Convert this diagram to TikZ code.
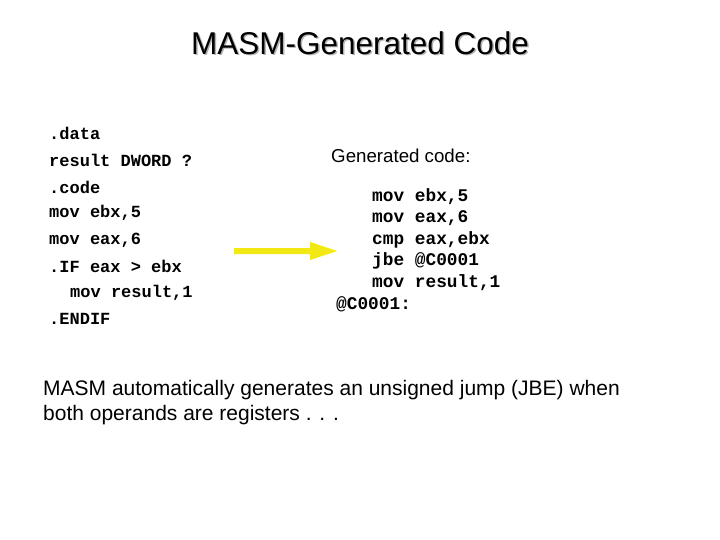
\documentclass[tikz,border=0pt]{standalone}
\usepackage{fontspec}
\setmainfont{Liberation Sans}
\newfontfamily\codefont{Liberation Mono}
\definecolor{arrowyellow}{RGB}{242,232,20}
\begin{document}
\begin{tikzpicture}[x=1pt,y=-1pt,
  code/.style={anchor=west,inner sep=0pt,font=\codefont\bfseries\fontsize{17}{20}\selectfont},
  rcode/.style={anchor=west,inner sep=0pt,font=\codefont\bfseries\fontsize{17.8}{21}\selectfont},
  txt/.style={anchor=west,inner sep=0pt,font=\fontsize{21}{25}\selectfont}]
\useasboundingbox (0,0) rectangle (720,540);
\node[gray!60,font=\fontsize{31.5}{36}\selectfont] (ts) at (361.5,44.5) {MASM-Generated Code};
\node[font=\fontsize{31.5}{36}\selectfont] (title) at (360,43) {MASM-Generated Code};
\node[code] (l1) at (49,133) {.data};
\node[code] (l2) at (49,160) {result DWORD ?};
\node[code] (l3) at (49,187) {.code};
\node[code] (l4) at (49,213) {mov ebx,5};
\node[code] (l5) at (49,240) {mov eax,6};
\node[code] (l6) at (49,266) {.IF eax > ebx};
\node[code] (l7) at (70,293) {mov result,1};
\node[code] (l8) at (49,319) {.ENDIF};
\node[txt,font=\fontsize{18.7}{22}\selectfont] (gc) at (331,156) {Generated code:};
\node[rcode] (r1) at (372,197) {mov ebx,5};
\node[rcode] (r2) at (372,218) {mov eax,6};
\node[rcode] (r3) at (372,240) {cmp eax,ebx};
\node[rcode] (r4) at (372,261) {jbe @C0001};
\node[rcode] (r5) at (372,283) {mov result,1};
\node[rcode] (r6) at (336,304) {@C0001:};
\coordinate (a1) at (234,251);
\coordinate (a2) at (337,251);
\fill[arrowyellow] (a1) ++(0,-3) -- (310,248) -- (310,242) -- (a2) -- (310,260) -- (310,254) -- (234,254) -- cycle;
\node[txt] (b1) at (43,390) {MASM automatically generates an unsigned jump (JBE) when};
\node[txt] (b2) at (43,415) {both operands are registers . . .};
\end{tikzpicture}
\end{document}
